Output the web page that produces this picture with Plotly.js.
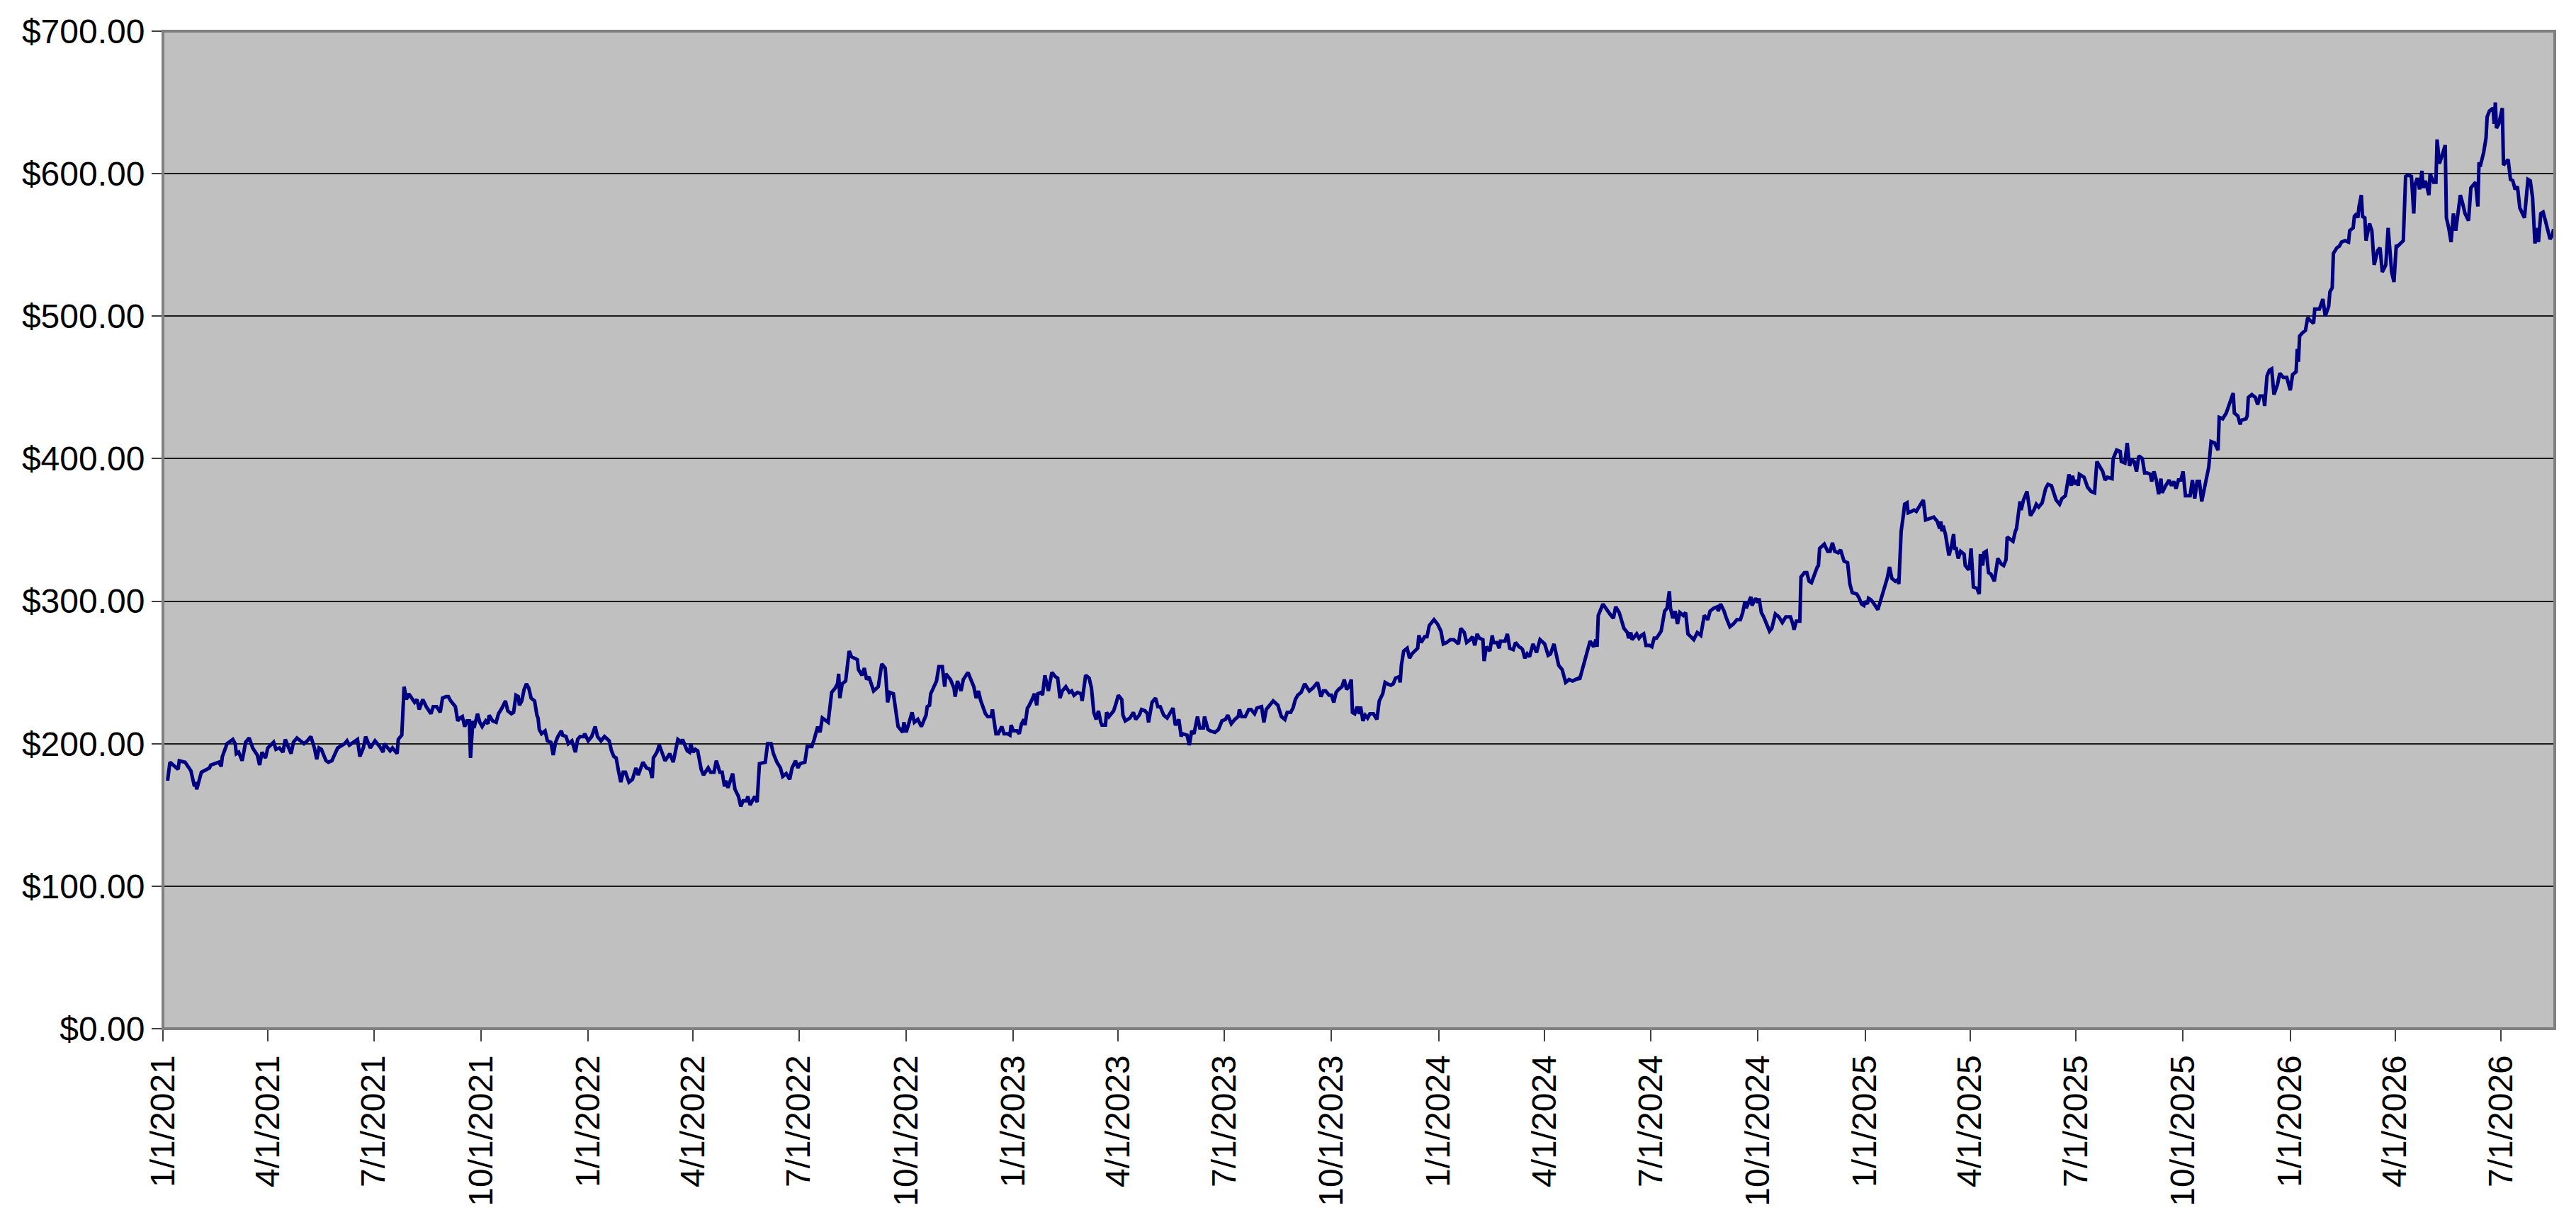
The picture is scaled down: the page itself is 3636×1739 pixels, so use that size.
<!DOCTYPE html>
<html>
<head>
<meta charset="utf-8">
<script src="https://cdn.plot.ly/plotly-3.0.1.min.js"></script>
<style>
  html, body { margin: 0; padding: 0; background: #ffffff; }
  #chart { width: 3636px; height: 1739px; }
</style>
</head>
<body>
<div id="chart"></div>
<script>
// every point is [day offset from 1/1/2021] + [closing price], split by year
const days2021 = [
  4, 6, 13, 14, 19, 24, 27, 28, 29, 31,
  33, 40, 41, 48, 50, 51, 53, 55, 60, 62,
  63, 65, 68, 71, 74, 77, 81, 83, 85, 88,
  90, 95, 97, 100, 103, 105, 110, 112, 115, 121,
  124, 127, 130, 132, 134, 136, 140, 142, 145, 147,
  150, 156, 158, 160, 164, 167, 169, 172, 174, 178,
  182, 186, 189, 190, 195, 197, 201, 202, 205, 207,
  209, 211, 216, 218, 220, 222, 223, 226, 230, 232,
  235, 238, 240, 243, 245, 247, 251, 253, 255, 257,
  259, 261, 263, 264, 266, 267, 270, 272, 274, 277,
  279, 280, 283, 286, 288, 291, 294, 296, 299, 301,
  303, 305, 306, 308, 310, 312, 314, 316, 319, 321,
  322, 323, 325, 328, 330, 333, 335, 337, 339, 342,
  343, 346, 348, 351, 354, 356, 358, 361, 362
];
const price2021 = [
  174, 187, 182, 188, 187, 181, 170, 173, 168, 173,
  180, 183, 185, 187, 184, 191, 195, 200, 203, 200,
  193, 194, 188, 201, 204, 197, 192, 185, 194, 190,
  197, 201, 196, 197, 194, 203, 193, 201, 204, 200,
  202, 205, 197, 189, 197, 196, 188, 187, 188, 192,
  197, 200, 202, 199, 201, 203, 191, 197, 205, 197,
  202, 198, 194, 200, 195, 197, 193, 203, 206, 240,
  231, 235, 229, 231, 224, 228, 231, 226, 221, 226,
  226, 222, 232, 233, 233, 230, 226, 216, 218, 219,
  212, 216, 216, 190, 216, 211, 221, 215, 212, 216,
  214, 220, 216, 215, 221, 225, 230, 223, 221, 222,
  234, 233, 227, 230, 238, 242, 239, 232, 230, 220,
  218, 210, 207, 209, 202, 201, 192, 201, 205, 209,
  206, 205, 200, 202, 194, 203, 205, 205, 207
];

const days2022 = [
  365, 368, 371, 373, 376, 379, 383, 385, 387, 389,
  391, 393, 395, 397, 400, 403, 406, 408, 412, 415,
  418, 420, 421, 424, 426, 428, 431, 435, 438, 442,
  445, 446, 450, 452, 453, 455, 457, 459, 462, 464,
  468, 470, 473, 475, 478, 480, 482, 483, 485, 489,
  491, 494, 496, 498, 501, 502, 504, 506, 508, 510,
  512, 517, 519, 522, 524, 527, 530, 532, 535, 538,
  540, 543, 545, 547, 551, 553, 557, 559, 562, 564,
  566, 571, 574, 577, 579, 580, 581, 583, 586, 589,
  591, 596, 597, 600, 602, 604, 606, 610, 614, 617,
  620, 622, 624, 627, 629, 631, 635, 636, 638, 640,
  643, 645, 648, 651, 655, 656, 658, 659, 662, 664,
  666, 669, 671, 672, 676, 679, 680, 682, 685, 687,
  691, 693, 696, 698, 700, 702, 705, 706, 708, 711,
  712, 715, 717, 720, 722, 725, 727, 728
];
const price2022 = [
  202, 205, 212, 205, 202, 205, 202, 195, 191, 190,
  181, 173, 180, 180, 173, 175, 183, 178, 187, 183,
  182, 176, 190, 194, 199, 194, 188, 193, 187, 203,
  201, 203, 195, 194, 200, 194, 196, 195, 182, 178,
  183, 180, 180, 188, 180, 180, 170, 174, 169, 179,
  168, 163, 156, 160, 160, 163, 157, 160, 163, 159,
  186, 187, 200, 200, 193, 187, 183, 177, 179, 175,
  183, 188, 183, 186, 187, 198, 198, 203, 212, 208,
  218, 215, 236, 239, 242, 249, 232, 242, 244, 265,
  261, 259, 252, 248, 253, 245, 247, 237, 240, 256,
  253, 229, 236, 235, 225, 212, 208, 215, 208, 213,
  222, 215, 217, 212, 220, 226, 227, 235, 240, 244,
  254, 254, 240, 249, 245, 239, 233, 244, 237, 245,
  250, 246, 240, 232, 237, 230, 224, 221, 219, 219,
  224, 207, 207, 212, 207, 207, 206, 213
];

const days2023 = [
  730, 733, 735, 737, 739, 740, 742, 743, 746, 748,
  750, 751, 754, 755, 757, 760, 763, 766, 768, 770,
  772, 775, 778, 780, 782, 785, 788, 789, 792, 795,
  797, 799, 801, 803, 805, 806, 809, 810, 812, 816,
  818, 820, 823, 824, 826, 830, 833, 835, 838, 840,
  843, 845, 846, 849, 852, 854, 856, 859, 862, 865,
  867, 869, 872, 874, 875, 879, 881, 883, 885, 888,
  890, 893, 894, 897, 899, 903, 906, 909, 912, 914,
  917, 920, 923, 924, 926, 929, 932, 934, 937, 939,
  943, 945, 947, 950, 953, 957, 960, 963, 965, 968,
  970, 972, 974, 977, 980, 984, 987, 991, 994, 996,
  998, 1001, 1003, 1005, 1007, 1009, 1012, 1014, 1016, 1018,
  1020, 1021, 1023, 1025, 1027, 1028, 1030, 1032, 1034, 1036,
  1039, 1042, 1044, 1047, 1049, 1051, 1054, 1056, 1058, 1061,
  1062, 1063, 1065, 1068, 1070, 1072, 1075, 1077, 1078, 1080,
  1083, 1085, 1087, 1091, 1094
];
const price2023 = [
  209, 209, 207, 214, 217, 213, 225, 226, 231, 235,
  227, 235, 236, 234, 248, 237, 250, 247, 246, 232,
  237, 240, 236, 237, 234, 236, 235, 230, 248, 246,
  239, 222, 217, 223, 215, 213, 213, 222, 219, 223,
  228, 234, 231, 220, 216, 218, 222, 217, 220, 224,
  223, 221, 215, 229, 232, 226, 226, 220, 218, 222,
  225, 213, 217, 205, 207, 206, 199, 209, 207, 219,
  211, 211, 219, 210, 209, 208, 210, 216, 217, 220,
  214, 217, 219, 224, 219, 219, 224, 224, 221, 225,
  226, 215, 224, 227, 230, 227, 219, 217, 222, 222,
  225, 231, 234, 236, 242, 237, 239, 243, 233, 237,
  237, 234, 234, 229, 236, 238, 240, 245, 238, 240,
  245, 222, 221, 226, 221, 226, 216, 220, 218, 221,
  221, 217, 230, 235, 243, 242, 241, 242, 246, 247,
  243, 255, 265, 267, 260, 263, 265, 267, 276, 271,
  275, 275, 283, 287, 284
];

const days2024 = [
  1097, 1099, 1102, 1105, 1108, 1112, 1114, 1117, 1119, 1122,
  1124, 1126, 1128, 1130, 1133, 1134, 1136, 1139, 1141, 1142,
  1145, 1147, 1148, 1152, 1154, 1156, 1159, 1161, 1164, 1166,
  1167, 1169, 1171, 1173, 1176, 1179, 1182, 1186, 1189, 1191,
  1194, 1198, 1201, 1204, 1207, 1210, 1213, 1215, 1216, 1218,
  1222, 1225, 1228, 1230, 1231, 1232, 1236, 1239, 1242, 1245,
  1247, 1250, 1252, 1254, 1257, 1258, 1260, 1261, 1265, 1267,
  1269, 1271, 1273, 1276, 1278, 1280, 1282, 1286, 1289, 1291,
  1293, 1294, 1296, 1298, 1300, 1302, 1305, 1307, 1309, 1312,
  1314, 1317, 1320, 1323, 1326, 1328, 1331, 1334, 1335, 1337,
  1340, 1342, 1345, 1348, 1351, 1354, 1356, 1358, 1359, 1363,
  1364, 1367, 1369, 1370, 1372, 1374, 1377, 1379, 1381, 1384,
  1387, 1390, 1393, 1397, 1399, 1400, 1402, 1405, 1406, 1409,
  1411, 1413, 1415, 1417, 1420, 1421, 1422, 1426, 1429, 1431,
  1433, 1435, 1438, 1440, 1443, 1446, 1448, 1450, 1454, 1456,
  1458, 1460
];
const price2024 = [
  279, 270, 271, 273, 273, 270, 281, 278, 271, 273,
  275, 269, 277, 274, 273, 258, 268, 265, 276, 271,
  271, 267, 272, 272, 277, 267, 266, 271, 268, 267,
  266, 260, 263, 261, 270, 264, 273, 270, 262, 263,
  270, 255, 252, 243, 245, 244, 245, 246, 245, 251,
  261, 272, 268, 273, 268, 290, 298, 294, 291, 288,
  296, 292, 286, 281, 278, 274, 278, 273, 277, 274,
  276, 277, 269, 269, 268, 274, 274, 279, 293, 295,
  307, 295, 288, 293, 284, 292, 290, 292, 277, 275,
  273, 278, 276, 290, 287, 293, 295, 296, 293, 298,
  293, 288, 282, 284, 287, 287, 292, 300, 295, 303,
  297, 302, 299, 302, 292, 289, 283, 279, 281, 291,
  289, 285, 289, 289, 284, 280, 286, 286, 317, 320,
  320, 314, 313, 318, 324, 325, 337, 340, 335, 335,
  341, 335, 334, 336, 328, 327, 312, 306, 305, 302,
  298, 297
];

const days2025 = [
  1461, 1463, 1464, 1466, 1468, 1472, 1474, 1476, 1478, 1480,
  1482, 1484, 1487, 1489, 1490, 1492, 1494, 1495, 1497, 1498,
  1501, 1503, 1505, 1508, 1511, 1513, 1516, 1520, 1523, 1525,
  1526, 1527, 1528, 1530, 1533, 1535, 1537, 1538, 1539, 1541,
  1543, 1546, 1547, 1550, 1551, 1552, 1554, 1557, 1559, 1560,
  1562, 1563, 1565, 1567, 1569, 1572, 1575, 1578, 1580, 1582,
  1583, 1586, 1588, 1590, 1591, 1594, 1595, 1597, 1600, 1603,
  1606, 1608, 1610, 1613, 1616, 1618, 1621, 1623, 1625, 1628,
  1630, 1633, 1635, 1636, 1638, 1639, 1641, 1643, 1644, 1645,
  1649, 1652, 1655, 1658, 1660, 1663, 1665, 1667, 1669, 1673,
  1674, 1677, 1680, 1681, 1684, 1686, 1688, 1690, 1692, 1694,
  1696, 1699, 1701, 1703, 1706, 1707, 1709, 1711, 1713, 1715,
  1716, 1719, 1722, 1724, 1726, 1728, 1730, 1732, 1734, 1736,
  1740, 1742, 1744, 1746, 1748, 1750, 1753, 1756, 1758, 1761,
  1764, 1765, 1768, 1771, 1774, 1777, 1778, 1781, 1783, 1784,
  1788, 1789, 1790, 1793, 1796, 1798, 1800, 1803, 1804, 1806,
  1808, 1810, 1812, 1815, 1817, 1820, 1823
];
const price2025 = [
  300, 298, 302, 301, 299, 294, 299, 305, 310, 316,
  324, 316, 314, 315, 312, 349, 361, 368, 369, 362,
  363, 364, 363, 367, 371, 357, 358, 359, 356, 351,
  356, 349, 353, 347, 332, 338, 347, 336, 338, 330,
  335, 333, 325, 322, 327, 337, 310, 309, 305, 333,
  325, 334, 335, 320, 319, 314, 330, 326, 325, 329,
  345, 343, 342, 349, 351, 370, 364, 371, 377, 360,
  364, 368, 366, 369, 379, 382, 381, 376, 371, 368,
  372, 374, 384, 389, 381, 388, 382, 385, 381, 389,
  387, 380, 377, 376, 398, 394, 391, 385, 387, 386,
  400, 406, 405, 398, 397, 411, 395, 399, 398, 391,
  402, 400, 390, 390, 389, 384, 391, 385, 375, 386,
  376, 381, 385, 381, 384, 379, 385, 385, 391, 374,
  374, 385, 372, 384, 384, 370, 382, 394, 412, 411,
  406, 429, 428, 432, 439, 446, 432, 430, 424, 427,
  428, 430, 443, 445, 443, 438, 444, 444, 437, 458,
  462, 463, 445, 452, 460, 457, 457
];

const days2026 = [
  1826, 1828, 1831, 1832, 1833, 1834, 1836, 1839, 1841, 1843,
  1846, 1847, 1851, 1854, 1856, 1859, 1860, 1862, 1863, 1866,
  1868, 1870, 1873, 1876, 1877, 1880, 1881, 1883, 1884, 1885,
  1887, 1888, 1890, 1891, 1894, 1896, 1898, 1901, 1903, 1905,
  1908, 1910, 1913, 1915, 1917, 1918, 1923, 1925, 1927, 1930,
  1932, 1933, 1935, 1937, 1939, 1940, 1942, 1945, 1946, 1949,
  1951, 1952, 1954, 1956, 1959, 1960, 1962, 1964, 1966, 1968,
  1972, 1974, 1976, 1979, 1981, 1983, 1985, 1987, 1988, 1989,
  1992, 1994, 1995, 1997, 2000, 2001, 2002, 2003, 2005, 2008,
  2009, 2010, 2013, 2015, 2017, 2019, 2021, 2023, 2027, 2030,
  2032, 2034, 2036, 2038, 2039, 2041, 2043, 2045, 2049, 2051,
  2052
];
const price2026 = [
  448, 459, 461, 477, 468, 486, 488, 490, 499, 497,
  495, 505, 505, 512, 500, 507, 517, 520, 544, 548,
  549, 552, 553, 552, 560, 562, 570, 572, 569, 577,
  585, 570, 569, 553, 565, 560, 536, 546, 548, 531,
  536, 562, 531, 524, 550, 549, 553, 598, 599, 598,
  572, 592, 597, 589, 602, 590, 595, 585, 600, 594,
  594, 624, 607, 612, 620, 569, 562, 552, 572, 560,
  585, 579, 572, 567, 590, 592, 594, 577, 608, 605,
  615, 625, 640, 644, 646, 635, 650, 632, 635, 646,
  606, 607, 610, 596, 595, 589, 591, 576, 569, 596,
  595, 583, 551, 562, 552, 572, 573, 567, 554, 557,
  561
];

const tickLabels = [
  '1/1/2021', '4/1/2021', '7/1/2021', '10/1/2021',
  '1/1/2022', '4/1/2022', '7/1/2022', '10/1/2022',
  '1/1/2023', '4/1/2023', '7/1/2023', '10/1/2023',
  '1/1/2024', '4/1/2024', '7/1/2024', '10/1/2024',
  '1/1/2025', '4/1/2025', '7/1/2025', '10/1/2025',
  '1/1/2026', '4/1/2026', '7/1/2026'
];

const START = Date.UTC(2021, 0, 1);
const LAST_DAY = 2053;

function offsetToIso(offset) {
  return new Date(START + offset * 86400000).toISOString().slice(0, 10);
}

function labelToIso(label) {
  const [m, d, y] = label.split('/');
  return `${y}-${m.padStart(2, '0')}-${d.padStart(2, '0')}`;
}

const allDays = [].concat(days2021, days2022, days2023, days2024, days2025, days2026);
const allPrices = [].concat(price2021, price2022, price2023, price2024, price2025, price2026);

const priceLine = {
  x: allDays.map(offsetToIso),
  y: allPrices,
  type: 'scatter',
  mode: 'lines',
  line: { color: '#000080', width: 5 },
  hoverinfo: 'skip'
};

const layout = {
  width: 3636,
  height: 1739,
  margin: { l: 230, r: 30, t: 44, b: 287 },
  paper_bgcolor: '#ffffff',
  plot_bgcolor: '#c0c0c0',
  showlegend: false,
  font: { family: 'Liberation Sans, Arial, sans-serif', size: 48, color: '#000000' },
  xaxis: {
    type: 'date',
    range: [offsetToIso(0), offsetToIso(LAST_DAY)],
    tickmode: 'array',
    tickvals: tickLabels.map(labelToIso),
    ticktext: tickLabels,
    tickangle: -90,
    ticks: 'outside',
    ticklen: 16,
    tickwidth: 2,
    tickcolor: '#404040',
    showgrid: false,
    zeroline: false,
    showline: true,
    linecolor: '#303030',
    linewidth: 2
  },
  yaxis: {
    range: [0, 700],
    tick0: 0,
    dtick: 100,
    tickformat: '$.2f',
    ticks: 'outside',
    ticklen: 14,
    tickwidth: 2,
    tickcolor: '#404040',
    showgrid: true,
    gridcolor: '#1a1a1a',
    gridwidth: 2,
    zeroline: false,
    showline: true,
    linecolor: '#303030',
    linewidth: 2
  },
  shapes: [{
    type: 'rect',
    xref: 'paper', yref: 'paper',
    x0: 0, x1: 1, y0: 0, y1: 1,
    line: { color: '#808080', width: 4 },
    fillcolor: 'rgba(0,0,0,0)',
    layer: 'above'
  }]
};

Plotly.newPlot('chart', [priceLine], layout, { displayModeBar: false, staticPlot: true });
</script>
</body>
</html>
